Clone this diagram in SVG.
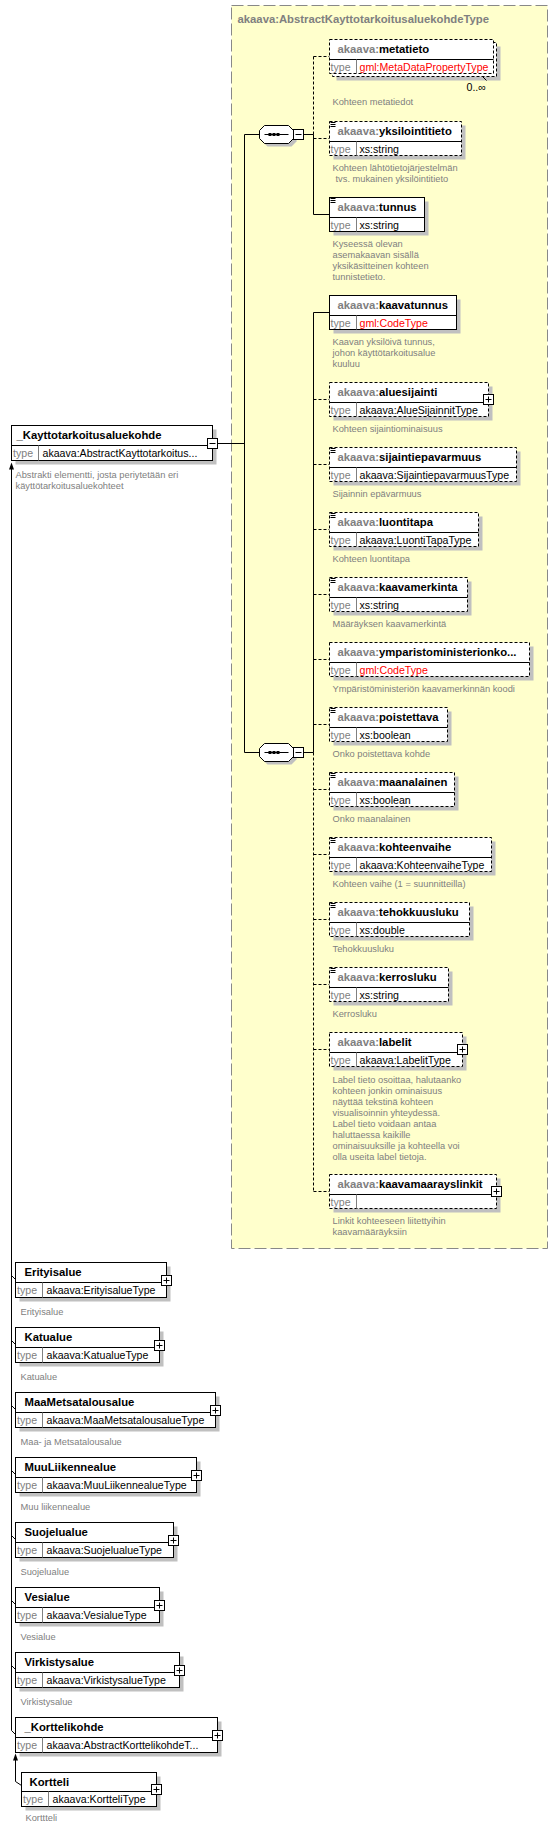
<svg xmlns="http://www.w3.org/2000/svg" width="558" height="1826" viewBox="0 0 558 1826">
<style>
.sh{fill:#c0c0c0}
.bx{fill:#fff;stroke:#000}
.o{stroke-dasharray:3,2}
.dv{stroke:#000;fill:none}
.dg{stroke:#808080;fill:none}
.ic{stroke:#000;fill:none}
.t{font-family:"Liberation Sans",Arial,sans-serif}
.nm{font-weight:bold;font-size:11.3px;fill:#000}
.px{fill:#808080}
.tl{font-size:10.6px;fill:#808080}
.tv{font-size:10.6px;fill:#000}
.rd{fill:#f00}
.ds{font-size:9.3px;fill:#808080}
.cn{stroke:#000;fill:none}
.cd{stroke-dasharray:3,2}
.pm{fill:#fff;stroke:#000}
.yl{fill:#ffffcc;stroke:#888;stroke-dasharray:12,4}
.yt{font-weight:bold;font-size:11.3px;fill:#808080}
</style>
<rect width="558" height="1826" fill="#fff"/>
<g transform="translate(0.5,0.5)">
<g id="complexType">
<rect class="yl" x="231" y="5" width="316" height="1243"/>
<text class="t yt" x="237" y="22.5">akaava:AbstractKayttotarkoitusaluekohdeType</text>
</g>

<g id="connectors">
<line class="cn" x1="217" y1="443" x2="244" y2="443"/>
<line class="cn" x1="244" y1="134" x2="244" y2="752"/>
<line class="cn" x1="244" y1="134" x2="259" y2="134"/>
<line class="cn" x1="244" y1="752" x2="259" y2="752"/>
<line class="cn" x1="303" y1="134" x2="313" y2="134"/>
<line class="cn" x1="303" y1="752" x2="313" y2="752"/>
<line class="cn cd" x1="313" y1="56" x2="313" y2="134"/>
<line class="cn" x1="313" y1="134" x2="313" y2="214"/>
<line class="cn" x1="313" y1="312" x2="313" y2="752"/>
<line class="cn cd" x1="313" y1="752" x2="313" y2="1191"/>
<line class="cn cd" x1="313" y1="56" x2="329" y2="56"/>
<line class="cn cd" x1="313" y1="138" x2="329" y2="138"/>
<line class="cn" x1="313" y1="214" x2="329" y2="214"/>
<line class="cn" x1="313" y1="312" x2="329" y2="312"/>
<line class="cn cd" x1="313" y1="399" x2="329" y2="399"/>
<line class="cn cd" x1="313" y1="464" x2="329" y2="464"/>
<line class="cn cd" x1="313" y1="529" x2="329" y2="529"/>
<line class="cn cd" x1="313" y1="594" x2="329" y2="594"/>
<line class="cn cd" x1="313" y1="659" x2="329" y2="659"/>
<line class="cn cd" x1="313" y1="724" x2="329" y2="724"/>
<line class="cn cd" x1="313" y1="789" x2="329" y2="789"/>
<line class="cn cd" x1="313" y1="854" x2="329" y2="854"/>
<line class="cn cd" x1="313" y1="919" x2="329" y2="919"/>
<line class="cn cd" x1="313" y1="984" x2="329" y2="984"/>
<line class="cn cd" x1="313" y1="1049" x2="329" y2="1049"/>
<line class="cn cd" x1="313" y1="1191" x2="329" y2="1191"/>
<line class="cn" x1="11" y1="468" x2="11" y2="1730"/>
<polygon points="11,462 8.5,469 13.5,469" fill="#000"/>
<path class="cn" d="M11 1275L15 1279M11 1340L15 1344M11 1405L15 1409M11 1470L15 1474M11 1535L15 1539M11 1600L15 1604M11 1665L15 1669M11 1730L15 1734"/>
<line class="cn" x1="15" y1="1759" x2="15" y2="1781"/>
<polygon points="15,1753 12.5,1760 17.5,1760" fill="#000"/>
<line class="cn" x1="15" y1="1781" x2="21" y2="1785"/>
</g>

<g id="sequence1">
<polygon class="sh" points="267,128 291,128 296,133 296,141 291,146 267,146 262,141 262,133"/>
<polygon class="bx" points="264,125 288,125 293,130 293,138 288,143 264,143 259,138 259,130"/>
<line class="cn" x1="264" y1="134" x2="288" y2="134"/>
<rect x="268" y="132.5" width="3" height="3" fill="#000"/>
<rect x="272" y="132.5" width="3" height="3" fill="#000"/>
<rect x="276" y="132.5" width="3" height="3" fill="#000"/>
<rect class="pm" x="293" y="129" width="10" height="10"/>
<line class="cn" x1="295" y1="134" x2="301" y2="134"/>
</g>
<g id="sequence2">
<polygon class="sh" points="267,746 291,746 296,751 296,759 291,764 267,764 262,759 262,751"/>
<polygon class="bx" points="264,743 288,743 293,748 293,756 288,761 264,761 259,756 259,748"/>
<line class="cn" x1="264" y1="752" x2="288" y2="752"/>
<rect x="268" y="750.5" width="3" height="3" fill="#000"/>
<rect x="272" y="750.5" width="3" height="3" fill="#000"/>
<rect x="276" y="750.5" width="3" height="3" fill="#000"/>
<rect class="pm" x="293" y="747" width="10" height="10"/>
<line class="cn" x1="295" y1="752" x2="301" y2="752"/>
</g>

<g id="metatieto">
<rect class="sh" x="336" y="46" width="164" height="34"/>
<rect class="bx o" x="332" y="42" width="164" height="34"/>
<rect class="bx o" x="329" y="39" width="164" height="34"/>
<line class="dv" x1="329" y1="59" x2="493" y2="59"/>
<line class="dg" x1="356" y1="59" x2="356" y2="73"/>
<text class="t nm" x="337" y="52"><tspan class="px">akaava:</tspan>metatieto</text>
<text class="t tl" x="330" y="70">type</text>
<text class="t tv rd" x="359" y="70">gml:MetaDataPropertyType</text>
<line class="cn" x1="482" y1="76" x2="486" y2="80"/>
<text class="t tv" x="466" y="90">0..∞</text>
<text class="t ds" x="332" y="104">Kohteen metatiedot</text>
</g>

<g id="yksilointitieto">
<rect class="sh" x="333" y="125" width="132" height="34"/>
<rect class="bx o" x="329" y="121" width="132" height="34"/>
<line class="dv" x1="329" y1="141" x2="461" y2="141"/>
<line class="dg" x1="356" y1="141" x2="356" y2="155"/>
<path class="ic" d="M330 122h5M330 124h5M330 126h5"/>
<text class="t nm" x="337" y="134"><tspan class="px">akaava:</tspan>yksilointitieto</text>
<text class="t tl" x="330" y="152">type</text>
<text class="t tv" x="359" y="152">xs:string</text>
<text class="t ds" x="332" y="170">Kohteen lähtötietojärjestelmän</text>
<text class="t ds" x="335" y="181">tvs. mukainen yksilöintitieto</text>
</g>

<g id="tunnus">
<rect class="sh" x="333" y="201" width="95" height="34"/>
<rect class="bx" x="329" y="197" width="95" height="34"/>
<line class="dv" x1="329" y1="217" x2="424" y2="217"/>
<line class="dg" x1="356" y1="217" x2="356" y2="231"/>
<path class="ic" d="M330 198h5M330 200h5M330 202h5"/>
<text class="t nm" x="337" y="210"><tspan class="px">akaava:</tspan>tunnus</text>
<text class="t tl" x="330" y="228">type</text>
<text class="t tv" x="359" y="228">xs:string</text>
<text class="t ds" x="332" y="246">Kyseessä olevan</text>
<text class="t ds" x="332" y="257">asemakaavan sisällä</text>
<text class="t ds" x="332" y="268">yksikäsitteinen kohteen</text>
<text class="t ds" x="332" y="279">tunnistetieto.</text>
</g>

<g id="kaavatunnus">
<rect class="sh" x="333" y="299" width="127" height="34"/>
<rect class="bx" x="329" y="295" width="127" height="34"/>
<line class="dv" x1="329" y1="315" x2="456" y2="315"/>
<line class="dg" x1="356" y1="315" x2="356" y2="329"/>
<text class="t nm" x="337" y="308"><tspan class="px">akaava:</tspan>kaavatunnus</text>
<text class="t tl" x="330" y="326">type</text>
<text class="t tv rd" x="359" y="326">gml:CodeType</text>
<text class="t ds" x="332" y="344">Kaavan yksilöivä tunnus,</text>
<text class="t ds" x="332" y="355">johon käyttötarkoitusalue</text>
<text class="t ds" x="332" y="366">kuuluu</text>
</g>

<g id="aluesijainti">
<rect class="sh" x="333" y="386" width="159" height="34"/>
<rect class="bx o" x="329" y="382" width="159" height="34"/>
<line class="dv" x1="329" y1="402" x2="488" y2="402"/>
<line class="dg" x1="356" y1="402" x2="356" y2="416"/>
<text class="t nm" x="337" y="395"><tspan class="px">akaava:</tspan>aluesijainti</text>
<text class="t tl" x="330" y="413">type</text>
<text class="t tv" x="359" y="413">akaava:AlueSijainnitType</text>
<rect class="pm" x="483" y="394" width="10" height="10"/>
<path class="cn" d="M485 399h6M488 396v6"/>
<text class="t ds" x="332" y="431">Kohteen sijaintiominaisuus</text>
</g>

<g id="sijaintiepavarmuus">
<rect class="sh" x="333" y="451" width="187" height="34"/>
<rect class="bx o" x="329" y="447" width="187" height="34"/>
<line class="dv" x1="329" y1="467" x2="516" y2="467"/>
<line class="dg" x1="356" y1="467" x2="356" y2="481"/>
<path class="ic" d="M330 448h5M330 450h5M330 452h5"/>
<text class="t nm" x="337" y="460"><tspan class="px">akaava:</tspan>sijaintiepavarmuus</text>
<text class="t tl" x="330" y="478">type</text>
<text class="t tv" x="359" y="478">akaava:SijaintiepavarmuusType</text>
<text class="t ds" x="332" y="496">Sijainnin epävarmuus</text>
</g>

<g id="luontitapa">
<rect class="sh" x="333" y="516" width="149" height="34"/>
<rect class="bx o" x="329" y="512" width="149" height="34"/>
<line class="dv" x1="329" y1="532" x2="478" y2="532"/>
<line class="dg" x1="356" y1="532" x2="356" y2="546"/>
<path class="ic" d="M330 513h5M330 515h5M330 517h5"/>
<text class="t nm" x="337" y="525"><tspan class="px">akaava:</tspan>luontitapa</text>
<text class="t tl" x="330" y="543">type</text>
<text class="t tv" x="359" y="543">akaava:LuontiTapaType</text>
<text class="t ds" x="332" y="561">Kohteen luontitapa</text>
</g>

<g id="kaavamerkinta">
<rect class="sh" x="333" y="581" width="138" height="34"/>
<rect class="bx o" x="329" y="577" width="138" height="34"/>
<line class="dv" x1="329" y1="597" x2="467" y2="597"/>
<line class="dg" x1="356" y1="597" x2="356" y2="611"/>
<path class="ic" d="M330 578h5M330 580h5M330 582h5"/>
<text class="t nm" x="337" y="590"><tspan class="px">akaava:</tspan>kaavamerkinta</text>
<text class="t tl" x="330" y="608">type</text>
<text class="t tv" x="359" y="608">xs:string</text>
<text class="t ds" x="332" y="626">Määräyksen kaavamerkintä</text>
</g>

<g id="ymparistoministerionkoodi">
<rect class="sh" x="333" y="646" width="200" height="34"/>
<rect class="bx o" x="329" y="642" width="200" height="34"/>
<line class="dv" x1="329" y1="662" x2="529" y2="662"/>
<line class="dg" x1="356" y1="662" x2="356" y2="676"/>
<text class="t nm" x="337" y="655"><tspan class="px">akaava:</tspan>ymparistoministerionko...</text>
<text class="t tl" x="330" y="673">type</text>
<text class="t tv rd" x="359" y="673">gml:CodeType</text>
<text class="t ds" x="332" y="691">Ympäristöministeriön kaavamerkinnän koodi</text>
</g>

<g id="poistettava">
<rect class="sh" x="333" y="711" width="118" height="34"/>
<rect class="bx o" x="329" y="707" width="118" height="34"/>
<line class="dv" x1="329" y1="727" x2="447" y2="727"/>
<line class="dg" x1="356" y1="727" x2="356" y2="741"/>
<path class="ic" d="M330 708h5M330 710h5M330 712h5"/>
<text class="t nm" x="337" y="720"><tspan class="px">akaava:</tspan>poistettava</text>
<text class="t tl" x="330" y="738">type</text>
<text class="t tv" x="359" y="738">xs:boolean</text>
<text class="t ds" x="332" y="756">Onko poistettava kohde</text>
</g>

<g id="maanalainen">
<rect class="sh" x="333" y="776" width="125" height="34"/>
<rect class="bx o" x="329" y="772" width="125" height="34"/>
<line class="dv" x1="329" y1="792" x2="454" y2="792"/>
<line class="dg" x1="356" y1="792" x2="356" y2="806"/>
<path class="ic" d="M330 773h5M330 775h5M330 777h5"/>
<text class="t nm" x="337" y="785"><tspan class="px">akaava:</tspan>maanalainen</text>
<text class="t tl" x="330" y="803">type</text>
<text class="t tv" x="359" y="803">xs:boolean</text>
<text class="t ds" x="332" y="821">Onko maanalainen</text>
</g>

<g id="kohteenvaihe">
<rect class="sh" x="333" y="841" width="162" height="34"/>
<rect class="bx o" x="329" y="837" width="162" height="34"/>
<line class="dv" x1="329" y1="857" x2="491" y2="857"/>
<line class="dg" x1="356" y1="857" x2="356" y2="871"/>
<path class="ic" d="M330 838h5M330 840h5M330 842h5"/>
<text class="t nm" x="337" y="850"><tspan class="px">akaava:</tspan>kohteenvaihe</text>
<text class="t tl" x="330" y="868">type</text>
<text class="t tv" x="359" y="868">akaava:KohteenvaiheType</text>
<text class="t ds" x="332" y="886">Kohteen vaihe (1 = suunnitteilla)</text>
</g>

<g id="tehokkuusluku">
<rect class="sh" x="333" y="906" width="140" height="34"/>
<rect class="bx o" x="329" y="902" width="140" height="34"/>
<line class="dv" x1="329" y1="922" x2="469" y2="922"/>
<line class="dg" x1="356" y1="922" x2="356" y2="936"/>
<path class="ic" d="M330 903h5M330 905h5M330 907h5"/>
<text class="t nm" x="337" y="915"><tspan class="px">akaava:</tspan>tehokkuusluku</text>
<text class="t tl" x="330" y="933">type</text>
<text class="t tv" x="359" y="933">xs:double</text>
<text class="t ds" x="332" y="951">Tehokkuusluku</text>
</g>

<g id="kerrosluku">
<rect class="sh" x="333" y="971" width="119" height="34"/>
<rect class="bx o" x="329" y="967" width="119" height="34"/>
<line class="dv" x1="329" y1="987" x2="448" y2="987"/>
<line class="dg" x1="356" y1="987" x2="356" y2="1001"/>
<path class="ic" d="M330 968h5M330 970h5M330 972h5"/>
<text class="t nm" x="337" y="980"><tspan class="px">akaava:</tspan>kerrosluku</text>
<text class="t tl" x="330" y="998">type</text>
<text class="t tv" x="359" y="998">xs:string</text>
<text class="t ds" x="332" y="1016">Kerrosluku</text>
</g>

<g id="labelit">
<rect class="sh" x="333" y="1036" width="133" height="34"/>
<rect class="bx o" x="329" y="1032" width="133" height="34"/>
<line class="dv" x1="329" y1="1052" x2="462" y2="1052"/>
<line class="dg" x1="356" y1="1052" x2="356" y2="1066"/>
<text class="t nm" x="337" y="1045"><tspan class="px">akaava:</tspan>labelit</text>
<text class="t tl" x="330" y="1063">type</text>
<text class="t tv" x="359" y="1063">akaava:LabelitType</text>
<rect class="pm" x="457" y="1044" width="10" height="10"/>
<path class="cn" d="M459 1049h6M462 1046v6"/>
<text class="t ds" x="332" y="1082">Label tieto osoittaa, halutaanko</text>
<text class="t ds" x="332" y="1093">kohteen jonkin ominaisuus</text>
<text class="t ds" x="332" y="1104">näyttää tekstinä kohteen</text>
<text class="t ds" x="332" y="1115">visualisoinnin yhteydessä.</text>
<text class="t ds" x="332" y="1126">Label tieto voidaan antaa</text>
<text class="t ds" x="332" y="1137">haluttaessa kaikille</text>
<text class="t ds" x="332" y="1148">ominaisuuksille ja kohteella voi</text>
<text class="t ds" x="332" y="1159">olla useita label tietoja.</text>
</g>

<g id="kaavamaarayslinkit">
<rect class="sh" x="333" y="1178" width="167" height="34"/>
<rect class="bx o" x="329" y="1174" width="167" height="34"/>
<line class="dv" x1="329" y1="1194" x2="496" y2="1194"/>
<line class="dg" x1="356" y1="1194" x2="356" y2="1208"/>
<text class="t nm" x="337" y="1187"><tspan class="px">akaava:</tspan>kaavamaarayslinkit</text>
<text class="t tl" x="330" y="1205">type</text>
<rect class="pm" x="491" y="1186" width="10" height="10"/>
<path class="cn" d="M493 1191h6M496 1188v6"/>
<text class="t ds" x="332" y="1223">Linkit kohteeseen liitettyihin</text>
<text class="t ds" x="332" y="1234">kaavamääräyksiin</text>
</g>

<g id="Kayttotarkoitusaluekohde">
<rect class="sh" x="15" y="429" width="201" height="35"/>
<rect class="bx" x="11" y="425" width="201" height="35"/>
<line class="dv" x1="11" y1="445" x2="212" y2="445"/>
<line class="dg" x1="38" y1="445" x2="38" y2="460"/>
<text class="t nm" x="16" y="438.5">_Kayttotarkoitusaluekohde</text>
<text class="t tl" x="12.5" y="456.5">type</text>
<text class="t tv" x="42" y="456.5">akaava:AbstractKayttotarkoitus...</text>
<rect class="pm" x="207" y="438" width="10" height="10"/>
<line class="cn" x1="209" y1="443" x2="215" y2="443"/>
<text class="t ds" x="15" y="477.5">Abstrakti elementti, josta periytetään eri</text>
<text class="t ds" x="15" y="488.5">käyttötarkoitusaluekohteet</text>
</g>

<g id="Erityisalue">
<rect class="sh" x="19" y="1266" width="151" height="35"/>
<rect class="bx" x="15" y="1262" width="151" height="35"/>
<line class="dv" x1="15" y1="1282" x2="166" y2="1282"/>
<line class="dg" x1="42" y1="1282" x2="42" y2="1297"/>
<text class="t nm" x="24" y="1275.5">Erityisalue</text>
<text class="t tl" x="16.5" y="1293.5">type</text>
<text class="t tv" x="46" y="1293.5">akaava:ErityisalueType</text>
<rect class="pm" x="161" y="1275" width="10" height="10"/>
<path class="cn" d="M163 1280h6M166 1277v6"/>
<text class="t ds" x="20" y="1314">Erityisalue</text>
</g>

<g id="Katualue">
<rect class="sh" x="19" y="1331" width="144" height="35"/>
<rect class="bx" x="15" y="1327" width="144" height="35"/>
<line class="dv" x1="15" y1="1347" x2="159" y2="1347"/>
<line class="dg" x1="42" y1="1347" x2="42" y2="1362"/>
<text class="t nm" x="24" y="1340.5">Katualue</text>
<text class="t tl" x="16.5" y="1358.5">type</text>
<text class="t tv" x="46" y="1358.5">akaava:KatualueType</text>
<rect class="pm" x="154" y="1340" width="10" height="10"/>
<path class="cn" d="M156 1345h6M159 1342v6"/>
<text class="t ds" x="20" y="1379">Katualue</text>
</g>

<g id="MaaMetsatalousalue">
<rect class="sh" x="19" y="1396" width="200" height="35"/>
<rect class="bx" x="15" y="1392" width="200" height="35"/>
<line class="dv" x1="15" y1="1412" x2="215" y2="1412"/>
<line class="dg" x1="42" y1="1412" x2="42" y2="1427"/>
<text class="t nm" x="24" y="1405.5">MaaMetsatalousalue</text>
<text class="t tl" x="16.5" y="1423.5">type</text>
<text class="t tv" x="46" y="1423.5">akaava:MaaMetsatalousalueType</text>
<rect class="pm" x="210" y="1405" width="10" height="10"/>
<path class="cn" d="M212 1410h6M215 1407v6"/>
<text class="t ds" x="20" y="1444">Maa- ja Metsatalousalue</text>
</g>

<g id="MuuLiikennealue">
<rect class="sh" x="19" y="1461" width="181" height="35"/>
<rect class="bx" x="15" y="1457" width="181" height="35"/>
<line class="dv" x1="15" y1="1477" x2="196" y2="1477"/>
<line class="dg" x1="42" y1="1477" x2="42" y2="1492"/>
<text class="t nm" x="24" y="1470.5">MuuLiikennealue</text>
<text class="t tl" x="16.5" y="1488.5">type</text>
<text class="t tv" x="46" y="1488.5">akaava:MuuLiikennealueType</text>
<rect class="pm" x="191" y="1470" width="10" height="10"/>
<path class="cn" d="M193 1475h6M196 1472v6"/>
<text class="t ds" x="20" y="1509">Muu liikennealue</text>
</g>

<g id="Suojelualue">
<rect class="sh" x="19" y="1526" width="158" height="35"/>
<rect class="bx" x="15" y="1522" width="158" height="35"/>
<line class="dv" x1="15" y1="1542" x2="173" y2="1542"/>
<line class="dg" x1="42" y1="1542" x2="42" y2="1557"/>
<text class="t nm" x="24" y="1535.5">Suojelualue</text>
<text class="t tl" x="16.5" y="1553.5">type</text>
<text class="t tv" x="46" y="1553.5">akaava:SuojelualueType</text>
<rect class="pm" x="168" y="1535" width="10" height="10"/>
<path class="cn" d="M170 1540h6M173 1537v6"/>
<text class="t ds" x="20" y="1574">Suojelualue</text>
</g>

<g id="Vesialue">
<rect class="sh" x="19" y="1591" width="144" height="35"/>
<rect class="bx" x="15" y="1587" width="144" height="35"/>
<line class="dv" x1="15" y1="1607" x2="159" y2="1607"/>
<line class="dg" x1="42" y1="1607" x2="42" y2="1622"/>
<text class="t nm" x="24" y="1600.5">Vesialue</text>
<text class="t tl" x="16.5" y="1618.5">type</text>
<text class="t tv" x="46" y="1618.5">akaava:VesialueType</text>
<rect class="pm" x="154" y="1600" width="10" height="10"/>
<path class="cn" d="M156 1605h6M159 1602v6"/>
<text class="t ds" x="20" y="1639">Vesialue</text>
</g>

<g id="Virkistysalue">
<rect class="sh" x="19" y="1656" width="164" height="35"/>
<rect class="bx" x="15" y="1652" width="164" height="35"/>
<line class="dv" x1="15" y1="1672" x2="179" y2="1672"/>
<line class="dg" x1="42" y1="1672" x2="42" y2="1687"/>
<text class="t nm" x="24" y="1665.5">Virkistysalue</text>
<text class="t tl" x="16.5" y="1683.5">type</text>
<text class="t tv" x="46" y="1683.5">akaava:VirkistysalueType</text>
<rect class="pm" x="174" y="1665" width="10" height="10"/>
<path class="cn" d="M176 1670h6M179 1667v6"/>
<text class="t ds" x="20" y="1704">Virkistysalue</text>
</g>

<g id="Korttelikohde">
<rect class="sh" x="19" y="1721" width="202" height="35"/>
<rect class="bx" x="15" y="1717" width="202" height="35"/>
<line class="dv" x1="15" y1="1737" x2="217" y2="1737"/>
<line class="dg" x1="42" y1="1737" x2="42" y2="1752"/>
<text class="t nm" x="24" y="1730.5">_Korttelikohde</text>
<text class="t tl" x="16.5" y="1748.5">type</text>
<text class="t tv" x="46" y="1748.5">akaava:AbstractKorttelikohdeT...</text>
<rect class="pm" x="212" y="1730" width="10" height="10"/>
<path class="cn" d="M214 1735h6M217 1732v6"/>
</g>

<g id="Kortteli">
<rect class="sh" x="25" y="1776" width="135" height="34"/>
<rect class="bx" x="21" y="1772" width="135" height="34"/>
<line class="dv" x1="21" y1="1791" x2="156" y2="1791"/>
<line class="dg" x1="48" y1="1791" x2="48" y2="1806"/>
<text class="t nm" x="29" y="1785">Kortteli</text>
<text class="t tl" x="22.5" y="1802.5">type</text>
<text class="t tv" x="52" y="1802.5">akaava:KortteliType</text>
<rect class="pm" x="151" y="1784" width="10" height="10"/>
<path class="cn" d="M153 1789h6M156 1786v6"/>
<text class="t ds" x="25" y="1820">Korttteli</text>
</g>
</g>
</svg>
